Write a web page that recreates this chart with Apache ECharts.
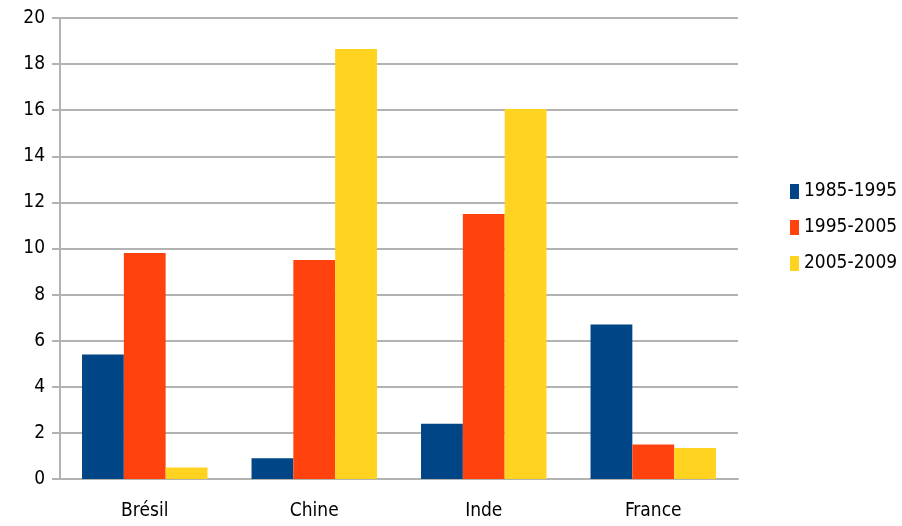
<!DOCTYPE html>
<html>
<head>
<meta charset="utf-8">
<script src="https://cdn.jsdelivr.net/npm/echarts@6/dist/echarts.min.js"></script>
<style>
html, body { margin: 0; padding: 0; background: #fff; }
#chart { width: 902px; height: 526px; }
</style>
</head>
<body>
<div id="chart"></div>
<script>
// données
var pays = ['Brésil', 'Chine', 'Inde', 'France'];
var periodes = ['1985-1995', '1995-2005', '2005-2009'];
var v1985_1995 = [5.4, 0.9, 2.4, 6.7];
var v1995_2005 = [9.8, 9.5, 11.5, 1.5];
var v2005_2009 = [0.5, 18.65, 16.05, 1.35];
var couleurs = ['#004586', '#ff420e', '#ffd320'];

var police = '"DejaVu Sans Condensed", "Liberation Sans", Arial, sans-serif';

var chart = echarts.init(document.getElementById('chart'));
var valeurs = [v1985_1995, v1995_2005, v2005_2009];

chart.setOption({
    animation: false,
    color: couleurs,
    grid: { left: 60, right: 164, top: 18, bottom: 47 },
    legend: {
        orient: 'vertical',
        left: 785,
        top: 177,
        itemWidth: 9,
        itemHeight: 15,
        itemGap: 17,
        icon: 'rect',
        textStyle: { fontFamily: police, fontSize: 19, color: '#000' },
        data: periodes
    },
    xAxis: {
        type: 'category',
        data: pays,
        axisLine: { lineStyle: { color: '#b3b3b3', width: 2 } },
        axisTick: { length: 10, lineStyle: { color: '#b3b3b3', width: 2 } },
        axisLabel: { margin: 23, fontFamily: police, fontSize: 19, color: '#000' }
    },
    yAxis: {
        type: 'value',
        min: 0,
        max: 20,
        interval: 2,
        axisLine: { show: true, lineStyle: { color: '#b3b3b3', width: 2 } },
        axisTick: { show: true, length: 8, lineStyle: { color: '#b3b3b3', width: 2 } },
        splitLine: { lineStyle: { color: '#b3b3b3', width: 2 } },
        axisLabel: { margin: 15, fontFamily: police, fontSize: 19, color: '#000' }
    },
    series: periodes.map(function (nom, i) {
        return {
            name: nom,
            type: 'bar',
            data: valeurs[i],
            barGap: '0%',
            barCategoryGap: '26%'
        };
    })
});
</script>
</body>
</html>
